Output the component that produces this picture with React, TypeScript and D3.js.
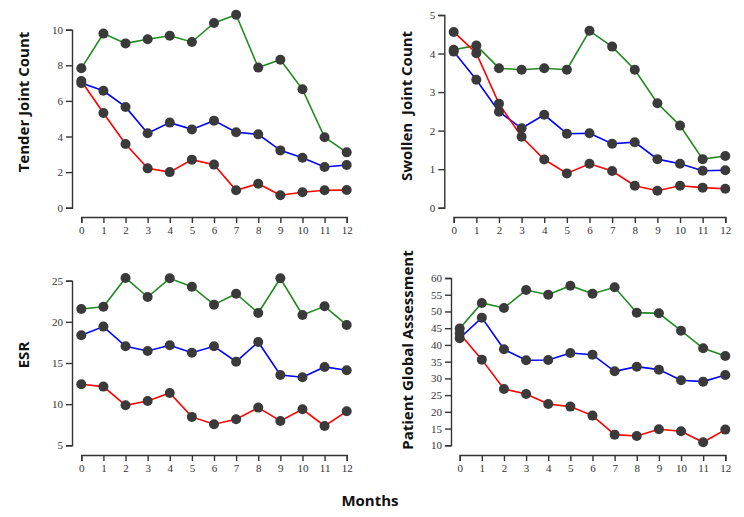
import React from "react";
import * as d3 from "d3";

// months on the x axis
const months = [0, 1, 2, 3, 4, 5, 6, 7, 8, 9, 10, 11, 12];

// Tender Joint Count
const tenderGreen = [7.83, 9.78, 9.23, 9.46, 9.66, 9.31, 10.38, 10.84, 7.87, 8.31, 6.65, 3.96, 3.11];
const tenderBlue = [7.0, 6.57, 5.66, 4.18, 4.78, 4.4, 4.89, 4.24, 4.12, 3.22, 2.81, 2.29, 2.4];
const tenderRed = [7.12, 5.32, 3.58, 2.21, 2.0, 2.7, 2.42, 0.98, 1.35, 0.7, 0.87, 0.98, 0.99];

// Swollen Joint Count
const swollenGreen = [4.1, 4.21, 3.62, 3.58, 3.62, 3.58, 4.59, 4.18, 3.58, 2.71, 2.13, 1.26, 1.34];
const swollenBlue = [4.05, 3.32, 2.49, 2.06, 2.41, 1.92, 1.93, 1.66, 1.7, 1.26, 1.14, 0.96, 0.97];
const swollenRed = [4.56, 4.01, 2.7, 1.84, 1.25, 0.89, 1.14, 0.95, 0.57, 0.44, 0.57, 0.52, 0.49];

// ESR
const esrGreen = [21.56, 21.84, 25.33, 23.02, 25.29, 24.27, 22.09, 23.42, 21.08, 25.29, 20.83, 21.89, 19.62];
const esrBlue = [18.37, 19.42, 17.03, 16.46, 17.15, 16.25, 17.03, 15.16, 17.55, 13.55, 13.27, 14.52, 14.12];
const esrRed = [12.41, 12.13, 9.86, 10.39, 11.36, 8.45, 7.56, 8.16, 9.58, 7.96, 9.38, 7.35, 9.13];

// Patient Global Assessment
const pgaGreen = [44.9, 52.53, 51.04, 56.41, 55.02, 57.71, 55.32, 57.21, 49.64, 49.44, 44.26, 38.99, 36.7];
const pgaBlue = [42.0, 48.15, 38.69, 35.4, 35.5, 37.6, 37.09, 32.11, 33.5, 32.61, 29.43, 29.03, 31.02];
const pgaRed = [43.4, 35.6, 26.84, 25.34, 22.35, 21.56, 18.87, 13.19, 12.79, 14.79, 14.19, 10.9, 14.69];

const GREEN = "#1f8a1f";
const BLUE = "#0000ff";
const RED = "#ff0000";
const DOT = "#3a3a3a";
const AXIS = "#333";
const SERIF = "'Liberation Serif', 'Times New Roman', serif";

type PanelProps = {
  label: string;
  labelX: number;
  labelY: number;
  x0: number; x1: number;
  yAxisX: number;
  xAxisY: number;
  yDomain: [number, number];
  yRange: [number, number];
  ticks: number[];
  series: { values: number[]; color: string }[];
};

function Panel(p: PanelProps) {
  const gx = React.useRef<SVGGElement>(null);
  const gy = React.useRef<SVGGElement>(null);
  const x = d3.scaleLinear().domain([0, 12]).range([p.x0, p.x1]);
  const y = d3.scaleLinear().domain(p.yDomain).range(p.yRange);

  React.useEffect(() => {
    const ax = d3.select(gx.current!);
    ax.call(d3.axisBottom(x).tickValues(months).tickFormat(d3.format("d")));
    const ay = d3.select(gy.current!);
    ay.call(d3.axisLeft(y).tickValues(p.ticks).tickFormat(d3.format("d")));
    [ax, ay].forEach(g => {
      g.attr("font-family", SERIF).attr("font-size", 11);
      g.selectAll("path,line").attr("stroke", AXIS).attr("stroke-width", 1.4);
      g.selectAll("text").attr("fill", "#333").attr("font-family", SERIF);
    });
  });

  const line = d3.line<number>().x((_, i) => x(months[i])).y(d => y(d));

  return (
    <g>
      <g ref={gx} transform={`translate(0,${p.xAxisY})`} />
      <g ref={gy} transform={`translate(${p.yAxisX},0)`} />
      {p.series.map((s, k) => (
        <path key={"l" + k} d={line(s.values) || ""} fill="none" stroke={s.color} strokeWidth={1.6} />
      ))}
      {p.series.map((s, k) =>
        s.values.map((v, i) => (
          <circle key={`c${k}-${i}`} cx={x(months[i])} cy={y(v)} r={5} fill={DOT} />
        ))
      )}
      <text
        transform={`translate(${p.labelX},${p.labelY}) rotate(-90)`}
        textAnchor="middle"
        dominantBaseline="central"
        style={{ fontFamily: "'Open Sans', sans-serif", fontWeight: 700, fontSize: 15, whiteSpace: "pre" }}
        fill="#111"
      >
        {p.label}
      </text>
    </g>
  );
}

export default function App() {
  return (
    <svg width={744} height={517} style={{ position: "fixed", left: 0, top: 0, background: "#fff" }}>
      <Panel
        label="Tender Joint Count" labelX={23} labelY={102}
        x0={81.3} x1={346.7} yAxisX={72} xAxisY={217}
        yDomain={[0, 10]} yRange={[207.7, 29.7]} ticks={[0, 2, 4, 6, 8, 10]}
        series={[{ values: tenderGreen, color: GREEN }, { values: tenderBlue, color: BLUE }, { values: tenderRed, color: RED }]}
      />
      <Panel
        label={"Swollen  Joint Count"} labelX={406} labelY={106}
        x0={453.7} x1={725.3} yAxisX={444.3} xAxisY={217}
        yDomain={[0, 5]} yRange={[207.7, 15]} ticks={[0, 1, 2, 3, 4, 5]}
        series={[{ values: swollenGreen, color: GREEN }, { values: swollenBlue, color: BLUE }, { values: swollenRed, color: RED }]}
      />
      <Panel
        label="ESR" labelX={23} labelY={355}
        x0={81.3} x1={346.7} yAxisX={72} xAxisY={455}
        yDomain={[5, 25]} yRange={[445.3, 280.7]} ticks={[5, 10, 15, 20, 25]}
        series={[{ values: esrGreen, color: GREEN }, { values: esrBlue, color: BLUE }, { values: esrRed, color: RED }]}
      />
      <Panel
        label="Patient Global Assessment" labelX={407} labelY={350}
        x0={459.7} x1={725.3} yAxisX={451} xAxisY={455}
        yDomain={[10, 60]} yRange={[445.3, 278]} ticks={[10, 15, 20, 25, 30, 35, 40, 45, 50, 55, 60]}
        series={[{ values: pgaGreen, color: GREEN }, { values: pgaBlue, color: BLUE }, { values: pgaRed, color: RED }]}
      />
      <text x={370} y={500} textAnchor="middle" dominantBaseline="central"
        style={{ fontFamily: "'Open Sans', sans-serif", fontWeight: 700, fontSize: 15 }} fill="#111">
        Months
      </text>
    </svg>
  );
}
